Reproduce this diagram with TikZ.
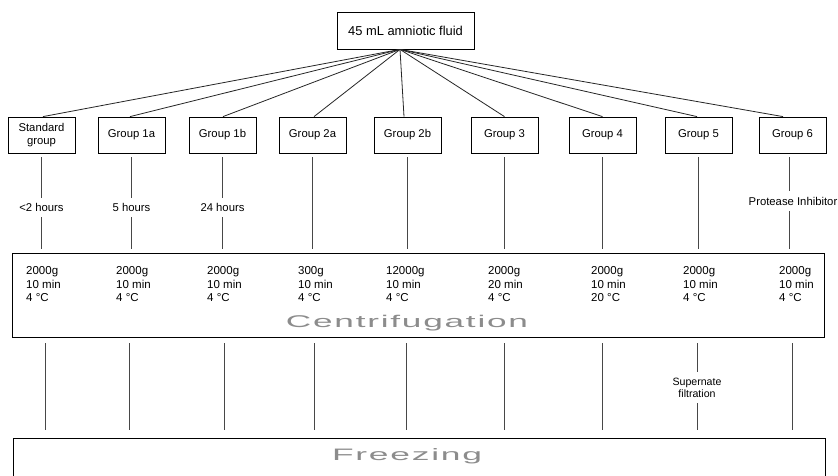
\documentclass[tikz,border=0pt]{standalone}
\usepackage{fontspec}
\setmainfont{Liberation Sans}
\newfontfamily\widefont[LetterSpace=5]{Liberation Sans}
\usetikzlibrary{calc}
\begin{document}
\begin{tikzpicture}[x=1pt,y=-1pt,
  box/.style={draw=black, line width=0.8pt, inner sep=0pt, align=center},
  grp/.style={box, minimum width=67pt, minimum height=36pt, font=\fontsize{11.3}{12.5}\selectfont},
  conn/.style={draw=black!72, line width=0.8pt},
  fan/.style={draw=black!85, line width=0.8pt},
  lbl/.style={inner sep=0pt, font=\fontsize{11.3}{13}\selectfont, align=center},
  col/.style={anchor=north west, inner sep=0pt, align=left, font=\fontsize{11.5}{13.5}\selectfont},
  big/.style={text=black!45, inner sep=0pt, anchor=base}
]
\useasboundingbox (0,0) rectangle (838,475);
\fill[white] (0,0) rectangle (838,475);

% top node
\node[box, minimum width=137pt, minimum height=37pt, font=\fontsize{12.9}{15}\selectfont] (top) at (405.5,30.5) {45 mL amniotic fluid};

% groups
\node[grp] (std) at (41.5,135) {Standard\\group};
\node[grp] (g1a) at (131.5,135) {Group 1a};
\node[grp] (g1b) at (222.5,135) {Group 1b};
\node[grp] (g2a) at (312.5,135) {Group 2a};
\node[grp] (g2b) at (407.5,135) {Group 2b};
\node[grp] (g3) at (504.5,135) {Group 3};
\node[grp] (g4) at (602.5,135) {Group 4};
\node[grp] (g5) at (698.5,135) {Group 5};
\node[grp] (g6) at (792.5,135) {Group 6};

% fan connectors
\foreach \g/\s in {std/1.5,g1a/-1.5,g1b/0.5,g2a/1.5,g2b/-3.5,g3/0,g4/0,g5/-1.5,g6/-9.5}
  \draw[fan] ([xshift=-5.5pt]top.south) -- ([xshift=\s pt]\g.north);

% centrifugation box
\node[box, minimum width=812pt, minimum height=84pt] (cent) at (418,295) {};
\node[col] (c0) at (26,266.5) {2000g\\10 min\\4 °C};
\node[col] (c1) at (116,266.5) {2000g\\10 min\\4 °C};
\node[col] (c2) at (207,266.5) {2000g\\10 min\\4 °C};
\node[col] (c3) at (298,266.5) {300g\\10 min\\4 °C};
\node[col] (c4) at (386,266.5) {12000g\\10 min\\4 °C};
\node[col] (c5) at (488,266.5) {2000g\\20 min\\4 °C};
\node[col] (c6) at (591,266.5) {2000g\\10 min\\20 °C};
\node[col] (c7) at (683,266.5) {2000g\\10 min\\4 °C};
\node[col] (c8) at (779,266.5) {2000g\\10 min\\4 °C};
\node[big] (ctxt) at (407,327) {\resizebox{242pt}{12.3pt}{\widefont Centrifugation}};

% freezing box
\node[box, minimum width=812pt, minimum height=47pt] (frz) at (419,461.5) {};
\node[big] (ftxt) at (407,460) {\resizebox{150pt}{12pt}{\widefont Freezing}};

% labels between groups and centrifugation
\node[lbl, minimum height=19pt] (t0) at (41.5,207.5) {<2 hours};
\node[lbl, minimum height=19pt] (t1) at (131.5,207.5) {5 hours};
\node[lbl, minimum height=19pt] (t2) at (222.5,207.5) {24 hours};
\node[lbl, minimum height=20pt] (pi) at (793,201) {Protease Inhibitor};

\foreach \g/\t in {std/t0,g1a/t1,g1b/t2}{
  \draw[conn, shorten <=4pt] (\g.south) -- (\t.north);
  \draw[conn, shorten >=4pt] (\t.south) -- (\t.south |- cent.north);
}
\foreach \g in {g2a,g2b,g3,g4,g5}
  \draw[conn, shorten <=4pt, shorten >=4pt] (\g.south) -- (\g.south |- cent.north);
\coordinate (g6b) at ([xshift=-3.5pt]g6.south);
\draw[conn, shorten <=4pt] (g6b) -- (g6b |- pi.north);
\draw[conn, shorten >=4pt] (g6b |- pi.south) -- (g6b |- cent.north);

% lower connectors
\node[lbl, minimum height=31pt, font=\fontsize{10.6}{12}\selectfont] (sf) at (697,387.5) {Supernate\\filtration};
\foreach \g/\s in {std/3.5,g1a/-2.5,g1b/1.5,g2a/1.5,g2b/-1.5,g3/-0.5,g4/-0.5,g6/-0.5}
  \draw[conn, shorten <=6pt, shorten >=8pt] ([xshift=\s pt]cent.south -| \g.south) -- ([xshift=\s pt]frz.north -| \g.south);
\draw[conn, shorten <=6pt] (cent.south -| sf.north) -- (sf.north);
\draw[conn, shorten >=8pt] (sf.south) -- (sf.south |- frz.north);
\end{tikzpicture}
\end{document}
